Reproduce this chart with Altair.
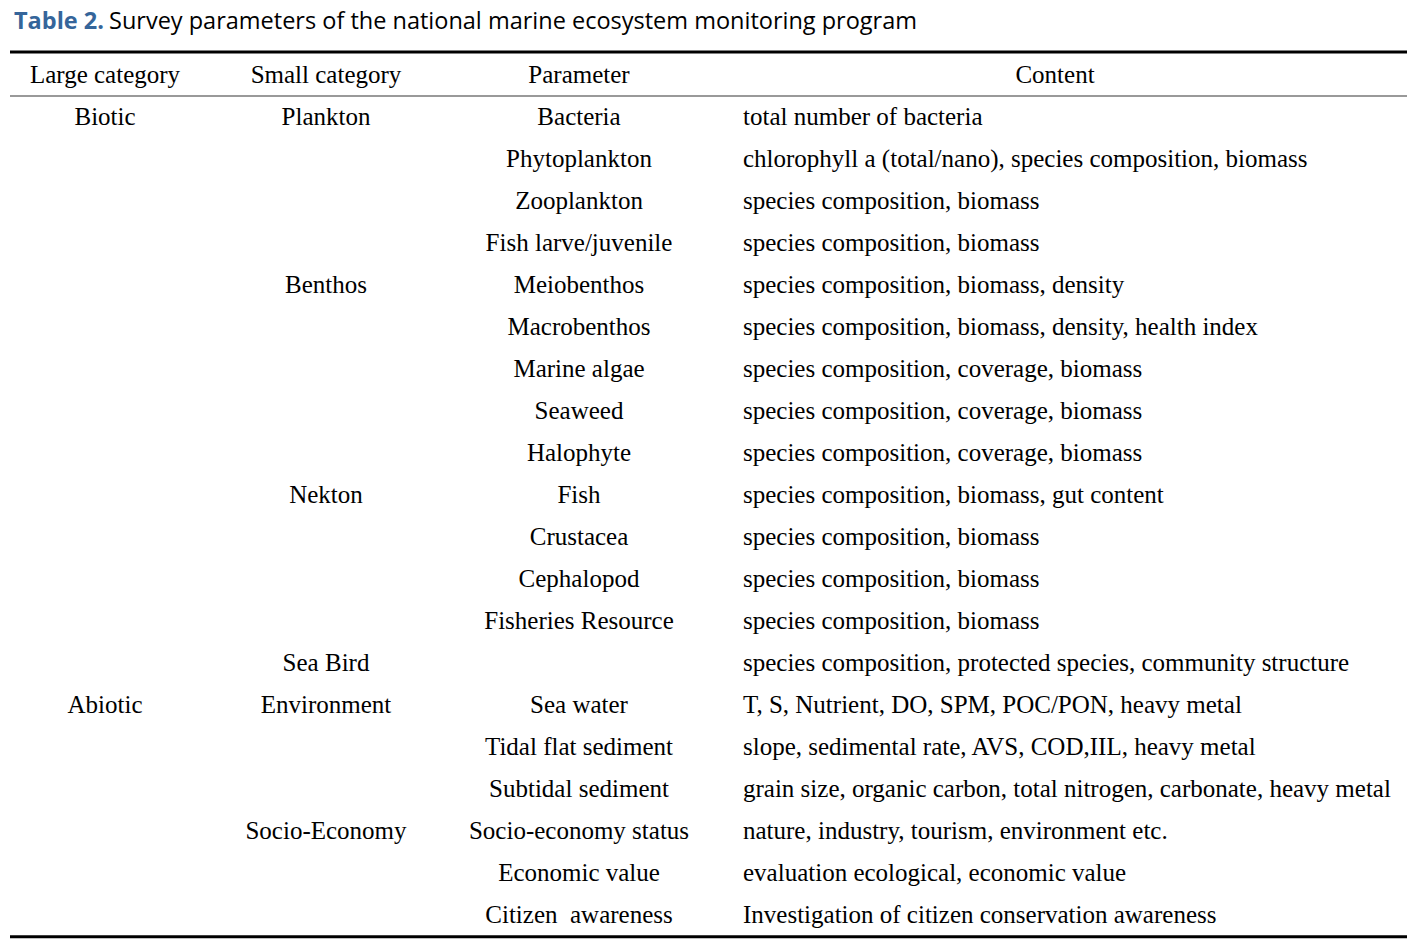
import altair as alt
import pandas as pd

# ---- table content ----
headers = ["Large category", "Small category", "Parameter", "Content"]

large_rows = [0, 14]
large_labels = ["Biotic", "Abiotic"]

small_rows = [0, 4, 9, 13, 14, 17]
small_labels = ["Plankton", "Benthos", "Nekton", "Sea Bird", "Environment", "Socio-Economy"]

parameters = [
    "Bacteria", "Phytoplankton", "Zooplankton", "Fish larve/juvenile",
    "Meiobenthos", "Macrobenthos", "Marine algae", "Seaweed", "Halophyte",
    "Fish", "Crustacea", "Cephalopod", "Fisheries Resource", "",
    "Sea water", "Tidal flat sediment", "Subtidal sediment",
    "Socio-economy status", "Economic value", "Citizen \u00a0awareness",
]

contents = [
    "total number of bacteria",
    "chlorophyll a (total/nano), species composition, biomass",
    "species composition, biomass",
    "species composition, biomass",
    "species composition, biomass, density",
    "species composition, biomass, density, health index",
    "species composition, coverage, biomass",
    "species composition, coverage, biomass",
    "species composition, coverage, biomass",
    "species composition, biomass, gut content",
    "species composition, biomass",
    "species composition, biomass",
    "species composition, biomass",
    "species composition, protected species, community structure",
    "T, S, Nutrient, DO, SPM, POC/PON, heavy metal",
    "slope, sedimental rate, AVS, COD,IIL, heavy metal",
    "grain size, organic carbon, total nitrogen, carbonate, heavy metal",
    "nature, industry, tourism, environment etc.",
    "evaluation ecological, economic value",
    "Investigation of citizen conservation awareness",
]

title_bold = "Table 2."
title_rest = "Survey parameters of the national marine ecosystem monitoring program"

# ---- build long-format tables (column index, row index, text) ----
cells = []
for r, t in zip(large_rows, large_labels):
    cells.append({"row": r, "col": 0, "text": t})
for r, t in zip(small_rows, small_labels):
    cells.append({"row": r, "col": 1, "text": t})
for r, t in enumerate(parameters):
    cells.append({"row": r, "col": 2, "text": t})
centered = pd.DataFrame(cells)
content_df = pd.DataFrame({"row": list(range(len(contents))), "col": 3, "text": contents})
header_df = pd.DataFrame({"row": [-1] * 4, "col": [0, 1, 2, 3], "text": headers})
rules_df = pd.DataFrame({"row": [-1.548, -0.5, 19.52], "w": [3, 1.3, 3],
                         "c": ["black", "#777777", "black"]})

W, H = 1410, 932
yscale = alt.Scale(domain=[0, 19], range=[109, 907])
FONT = "Liberation Serif"
FS = 25

col_scale = alt.Scale(domain=[0, 1, 2, 3], range=[97, 318, 571, 735])
hdr_scale = alt.Scale(domain=[0, 1, 2, 3], range=[97, 318, 571, 1047])

cell_layer = alt.Chart(centered).mark_text(font=FONT, fontSize=FS, align="center",
                                           baseline="middle", color="black").encode(
    x=alt.X("col:Q", scale=col_scale, axis=None),
    y=alt.Y("row:Q", scale=yscale, axis=None),
    text="text:N",
)
content_layer = alt.Chart(content_df).mark_text(font=FONT, fontSize=FS, align="left",
                                                baseline="middle", color="black").encode(
    x=alt.X("col:Q", scale=col_scale, axis=None),
    y=alt.Y("row:Q", scale=yscale, axis=None),
    text="text:N",
)
header_layer = alt.Chart(header_df).mark_text(font=FONT, fontSize=FS, align="center",
                                              baseline="middle", color="black").encode(
    x=alt.X("col:Q", scale=hdr_scale, axis=None),
    y=alt.Y("row:Q", scale=yscale, axis=None),
    text="text:N",
)
rule_layer = alt.Chart(rules_df).mark_rule().encode(
    y=alt.Y("row:Q", scale=yscale, axis=None),
    x=alt.value(2), x2=alt.value(1399),
    strokeWidth=alt.StrokeWidth("w:Q", scale=None, legend=None),
    color=alt.Color("c:N", scale=None, legend=None),
)
title_df = pd.DataFrame({"t": [title_bold]})
title2_df = pd.DataFrame({"t": [title_rest]})
title1 = alt.Chart(title_df).mark_text(font="Open Sans", fontSize=23.5, fontWeight="bold",
                                       color="#35659a", align="left", baseline="alphabetic").encode(
    x=alt.value(6), y=alt.value(21), text="t:N")
title2 = alt.Chart(title2_df).mark_text(font="Open Sans", fontSize=23.5, color="black",
                                        align="left", baseline="alphabetic").encode(
    x=alt.value(101), y=alt.value(21), text="t:N")

chart = alt.layer(rule_layer, cell_layer, content_layer, header_layer, title1, title2).resolve_scale(
    x="independent"
).properties(width=W, height=H, padding=0, autosize=alt.AutoSizeParams(type="none")).configure_view(
    stroke=None
)

chart.save("out.html", embed_options={"renderer": "svg", "actions": False})
